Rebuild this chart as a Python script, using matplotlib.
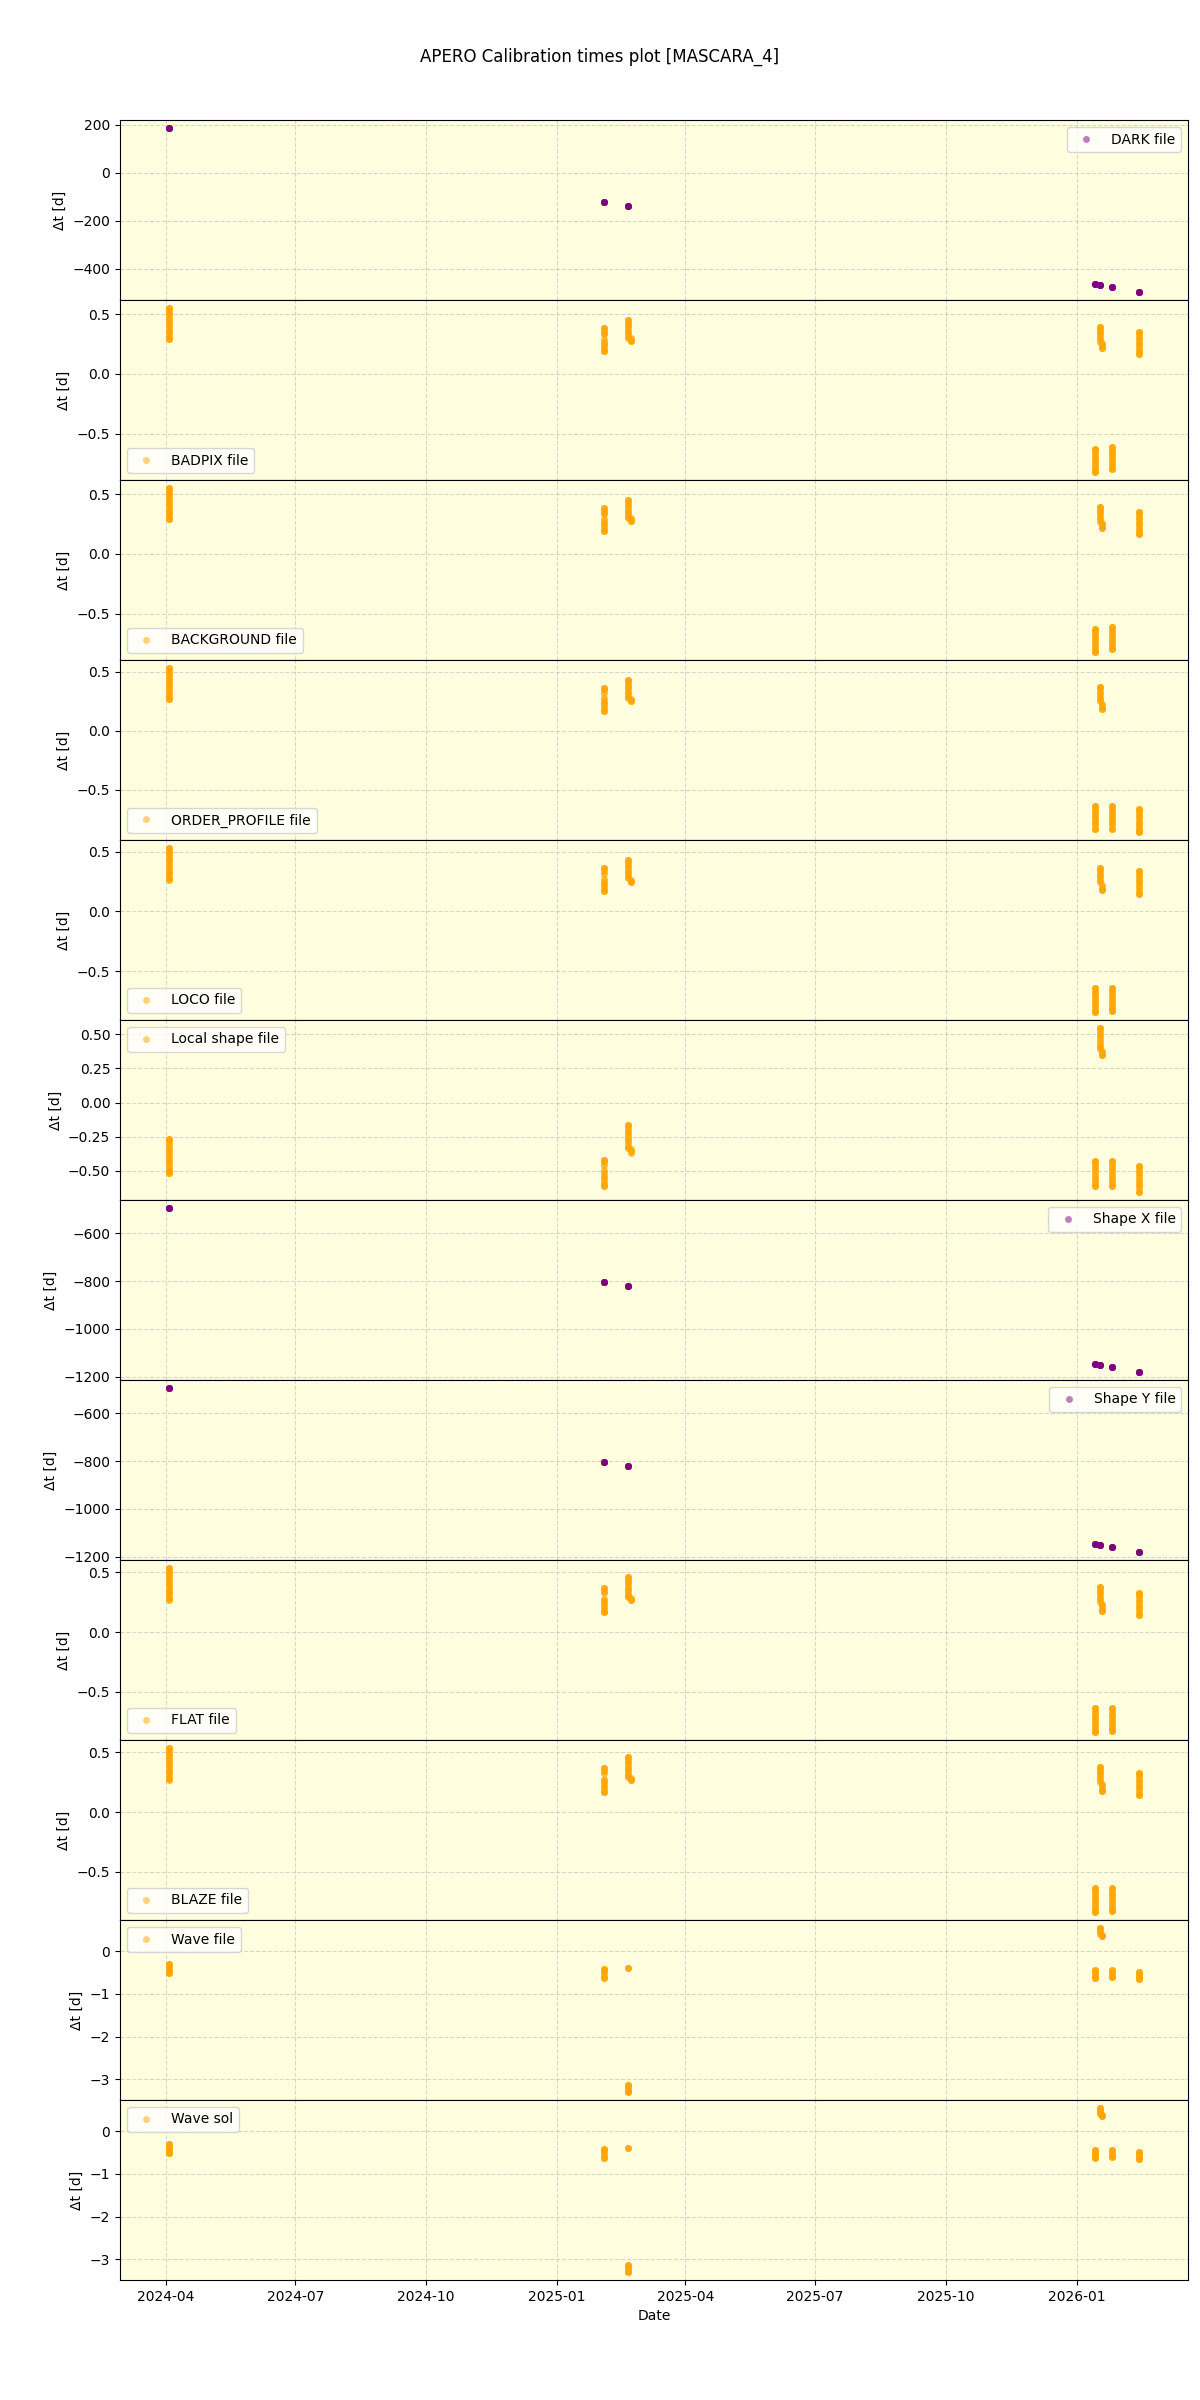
import matplotlib
matplotlib.use('Agg')
import matplotlib.pyplot as plt
import pandas as pd

TITLE = 'APERO Calibration times plot [MASCARA_4]'
X_LABEL = 'Date'
Y_LABEL = 'Δt [d]'

# observation nights (x positions of the clusters)
NIGHTS = ['2024-04-03', '2025-02-03', '2025-02-20', '2025-02-21 12:00',
          '2026-01-14', '2026-01-17', '2026-01-18 12:00', '2026-01-26', '2026-02-14']

PANEL_LABELS = ['DARK file', 'BADPIX file', 'BACKGROUND file', 'ORDER_PROFILE file',
                'LOCO file', 'Local shape file', 'Shape X file', 'Shape Y file',
                'FLAT file', 'BLAZE file', 'Wave file', 'Wave sol']
PANEL_COLORS = ['purple', 'orange', 'orange', 'orange', 'orange', 'orange',
                'purple', 'purple', 'orange', 'orange', 'orange', 'orange']
LEGEND_LOCS = ['upper right', 'lower left', 'lower left', 'lower left', 'lower left',
               'upper left', 'upper right', 'upper right', 'lower left', 'lower left',
               'upper left', 'upper left']

# Δt values (days), one list per night in NIGHTS
DARK_DT = [[186.3, 186.4, 186.5, 186.6], [-120.6, -120.5, -120.4, -120.3],
           [-137.6, -137.5, -137.4, -137.3], [],
           [-465.6, -465.5, -465.4, -465.3], [-468.6, -468.5, -468.4, -468.3], [],
           [-477.6, -477.5, -477.4, -477.3], [-496.6, -496.5, -496.4, -496.3]]

BADPIX_DT = [
    [0.55, 0.55, 0.53, 0.51, 0.49, 0.47, 0.45, 0.43, 0.41, 0.39, 0.37, 0.35, 0.33, 0.31, 0.29, 0.29],
    [0.38, 0.38, 0.36, 0.345, 0.335, 0.29, 0.27, 0.25, 0.23, 0.21, 0.19, 0.19],
    [0.45, 0.45, 0.43, 0.41, 0.39, 0.37, 0.35, 0.33, 0.31, 0.30],
    [0.30, 0.285, 0.275, 0.275],
    [-0.625, -0.625, -0.645, -0.665, -0.685, -0.705, -0.725, -0.745, -0.765, -0.785, -0.805, -0.82, -0.82],
    [0.39, 0.39, 0.37, 0.35, 0.33, 0.31, 0.29, 0.27],
    [0.26, 0.24, 0.22, 0.22],
    [-0.615, -0.615, -0.635, -0.655, -0.675, -0.695, -0.715, -0.735, -0.755, -0.775, -0.80, -0.80],
    [0.35, 0.35, 0.33, 0.31, 0.29, 0.27, 0.25, 0.23, 0.21, 0.19, 0.17, 0.17]]

BACKGROUND_DT = [
    [0.55, 0.55, 0.53, 0.51, 0.49, 0.47, 0.45, 0.43, 0.41, 0.39, 0.37, 0.35, 0.33, 0.31, 0.29, 0.29],
    [0.38, 0.38, 0.36, 0.345, 0.335, 0.29, 0.27, 0.25, 0.23, 0.21, 0.19, 0.19],
    [0.45, 0.45, 0.43, 0.41, 0.39, 0.37, 0.35, 0.33, 0.31, 0.30],
    [0.30, 0.285, 0.275, 0.275],
    [-0.625, -0.625, -0.645, -0.665, -0.685, -0.705, -0.725, -0.745, -0.765, -0.785, -0.805, -0.82, -0.82],
    [0.39, 0.39, 0.37, 0.35, 0.33, 0.31, 0.29, 0.27],
    [0.26, 0.24, 0.22, 0.22],
    [-0.615, -0.615, -0.635, -0.655, -0.675, -0.695, -0.715, -0.735, -0.755, -0.775, -0.80, -0.80],
    [0.35, 0.35, 0.33, 0.31, 0.29, 0.27, 0.25, 0.23, 0.21, 0.19, 0.17, 0.17]]

ORDER_PROFILE_DT = [
    [0.53, 0.53, 0.51, 0.49, 0.47, 0.45, 0.43, 0.41, 0.39, 0.37, 0.35, 0.33, 0.31, 0.29, 0.27, 0.27],
    [0.365, 0.365, 0.345, 0.32, 0.275, 0.255, 0.235, 0.215, 0.195, 0.17, 0.17],
    [0.43, 0.43, 0.41, 0.39, 0.37, 0.35, 0.33, 0.31, 0.29, 0.28],
    [0.27, 0.255, 0.255],
    [-0.64, -0.64, -0.66, -0.68, -0.70, -0.72, -0.74, -0.76, -0.78, -0.80, -0.83, -0.83],
    [0.37, 0.37, 0.35, 0.33, 0.31, 0.29, 0.27, 0.25],
    [0.23, 0.21, 0.185, 0.185],
    [-0.64, -0.64, -0.66, -0.68, -0.70, -0.72, -0.74, -0.76, -0.78, -0.80, -0.83, -0.83],
    [-0.66, -0.66, -0.68, -0.70, -0.72, -0.74, -0.76, -0.78, -0.80, -0.82, -0.84, -0.855, -0.855]]

LOCO_DT = [
    [0.53, 0.53, 0.51, 0.49, 0.47, 0.45, 0.43, 0.41, 0.39, 0.37, 0.35, 0.33, 0.31, 0.29, 0.27, 0.26],
    [0.36, 0.36, 0.34, 0.315, 0.27, 0.25, 0.23, 0.21, 0.19, 0.17, 0.17],
    [0.43, 0.43, 0.41, 0.39, 0.37, 0.35, 0.33, 0.31, 0.29, 0.28],
    [0.265, 0.25, 0.25],
    [-0.645, -0.645, -0.665, -0.685, -0.705, -0.725, -0.745, -0.765, -0.785, -0.805, -0.825, -0.842, -0.842],
    [0.365, 0.365, 0.345, 0.325, 0.305, 0.285, 0.265, 0.245],
    [0.225, 0.20, 0.18, 0.18],
    [-0.64, -0.64, -0.66, -0.68, -0.70, -0.72, -0.74, -0.76, -0.78, -0.80, -0.82, -0.835, -0.835],
    [0.335, 0.335, 0.315, 0.295, 0.275, 0.255, 0.235, 0.215, 0.195, 0.175, 0.15, 0.15]]

LOCAL_SHAPE_DT = [
    [-0.265, -0.265, -0.285, -0.305, -0.325, -0.345, -0.365, -0.385, -0.405, -0.425, -0.445, -0.465,
     -0.485, -0.505, -0.515, -0.515],
    [-0.418, -0.418, -0.438, -0.455, -0.495, -0.515, -0.535, -0.555, -0.575, -0.595, -0.612, -0.612],
    [-0.165, -0.165, -0.185, -0.205, -0.225, -0.245, -0.265, -0.285, -0.305, -0.325, -0.33],
    [-0.34, -0.355, -0.37],
    [-0.43, -0.43, -0.45, -0.47, -0.49, -0.51, -0.53, -0.55, -0.57, -0.59, -0.614, -0.614],
    [0.545, 0.545, 0.525, 0.505, 0.485, 0.465, 0.445, 0.425, 0.405, 0.395],
    [0.375, 0.36, 0.35, 0.35],
    [-0.43, -0.43, -0.45, -0.47, -0.49, -0.51, -0.53, -0.55, -0.57, -0.59, -0.61, -0.61],
    [-0.467, -0.467, -0.487, -0.507, -0.527, -0.547, -0.567, -0.587, -0.607, -0.627, -0.654, -0.654]]

SHAPE_X_DT = [[-496.6, -496.5, -496.4, -496.3], [-802.6, -802.5, -802.4, -802.3],
              [-819.6, -819.5, -819.4, -819.3], [],
              [-1147.6, -1147.5, -1147.4, -1147.3], [-1150.6, -1150.5, -1150.4, -1150.3], [],
              [-1159.6, -1159.5, -1159.4, -1159.3], [-1178.6, -1178.5, -1178.4, -1178.3]]

SHAPE_Y_DT = [[-496.6, -496.5, -496.4, -496.3], [-802.6, -802.5, -802.4, -802.3],
              [-819.6, -819.5, -819.4, -819.3], [],
              [-1147.6, -1147.5, -1147.4, -1147.3], [-1150.6, -1150.5, -1150.4, -1150.3], [],
              [-1159.6, -1159.5, -1159.4, -1159.3], [-1178.6, -1178.5, -1178.4, -1178.3]]

FLAT_DT = [
    [0.535, 0.535, 0.515, 0.495, 0.475, 0.455, 0.435, 0.415, 0.395, 0.375, 0.355, 0.335, 0.315, 0.295,
     0.275, 0.268],
    [0.367, 0.367, 0.347, 0.325, 0.28, 0.26, 0.24, 0.22, 0.20, 0.18, 0.167, 0.167],
    [0.46, 0.46, 0.44, 0.42, 0.40, 0.38, 0.36, 0.34, 0.32, 0.30, 0.29],
    [0.285, 0.27, 0.27],
    [-0.64, -0.64, -0.66, -0.68, -0.70, -0.72, -0.74, -0.76, -0.78, -0.80, -0.82, -0.836, -0.836],
    [0.375, 0.375, 0.355, 0.335, 0.315, 0.295, 0.275, 0.255],
    [0.235, 0.215, 0.195, 0.18, 0.18],
    [-0.635, -0.635, -0.655, -0.675, -0.695, -0.715, -0.735, -0.755, -0.775, -0.795, -0.815, -0.825, -0.825],
    [0.33, 0.33, 0.31, 0.29, 0.27, 0.25, 0.23, 0.21, 0.19, 0.17, 0.146, 0.146]]

BLAZE_DT = [
    [0.535, 0.535, 0.515, 0.495, 0.475, 0.455, 0.435, 0.415, 0.395, 0.375, 0.355, 0.335, 0.315, 0.295,
     0.275, 0.268],
    [0.367, 0.367, 0.347, 0.325, 0.28, 0.26, 0.24, 0.22, 0.20, 0.18, 0.167, 0.167],
    [0.46, 0.46, 0.44, 0.42, 0.40, 0.38, 0.36, 0.34, 0.32, 0.30, 0.29],
    [0.285, 0.27, 0.27],
    [-0.64, -0.64, -0.66, -0.68, -0.70, -0.72, -0.74, -0.76, -0.78, -0.80, -0.82, -0.836, -0.836],
    [0.375, 0.375, 0.355, 0.335, 0.315, 0.295, 0.275, 0.255],
    [0.235, 0.215, 0.195, 0.18, 0.18],
    [-0.635, -0.635, -0.655, -0.675, -0.695, -0.715, -0.735, -0.755, -0.775, -0.795, -0.815, -0.825, -0.825],
    [0.33, 0.33, 0.31, 0.29, 0.27, 0.25, 0.23, 0.21, 0.19, 0.17, 0.146, 0.146]]

WAVE_FILE_DT = [
    [-0.29, -0.29, -0.34, -0.39, -0.44, -0.49, -0.52, -0.52],
    [-0.42, -0.42, -0.47, -0.52, -0.57, -0.62, -0.62],
    [-0.39, -0.39, -3.12, -3.12, -3.17, -3.22, -3.27, -3.29, -3.29],
    [],
    [-0.44, -0.44, -0.49, -0.54, -0.59, -0.62, -0.62],
    [0.54, 0.54, 0.49, 0.44, 0.40],
    [0.37, 0.35, 0.35],
    [-0.44, -0.44, -0.49, -0.54, -0.59, -0.61, -0.61],
    [-0.48, -0.48, -0.53, -0.58, -0.63, -0.65, -0.65]]

WAVE_SOL_DT = [
    [-0.29, -0.29, -0.34, -0.39, -0.44, -0.49, -0.52, -0.52],
    [-0.42, -0.42, -0.47, -0.52, -0.57, -0.62, -0.62],
    [-0.39, -0.39, -3.12, -3.12, -3.17, -3.22, -3.27, -3.29, -3.29],
    [],
    [-0.44, -0.44, -0.49, -0.54, -0.59, -0.62, -0.62],
    [0.54, 0.54, 0.49, 0.44, 0.40],
    [0.37, 0.35, 0.35],
    [-0.44, -0.44, -0.49, -0.54, -0.59, -0.61, -0.61],
    [-0.48, -0.48, -0.53, -0.58, -0.63, -0.65, -0.65]]

PANEL_DATA = [DARK_DT, BADPIX_DT, BACKGROUND_DT, ORDER_PROFILE_DT, LOCO_DT,
              LOCAL_SHAPE_DT, SHAPE_X_DT, SHAPE_Y_DT, FLAT_DT, BLAZE_DT,
              WAVE_FILE_DT, WAVE_SOL_DT]

night_ts = [pd.Timestamp(n) for n in NIGHTS]

fig, axes = plt.subplots(len(PANEL_LABELS), 1, figsize=(12, 24), dpi=100, sharex=True)
fig.subplots_adjust(left=0.1, right=0.99, top=0.95, bottom=0.05, hspace=0)

for ax, label, color, loc, data in zip(axes, PANEL_LABELS, PANEL_COLORS, LEGEND_LOCS, PANEL_DATA):
    xs, ys = [], []
    for ts, vals in zip(night_ts, data):
        for v in vals:
            xs.append(ts)
            ys.append(v)
    ax.set_facecolor('lightyellow')
    ax.plot(xs, ys, marker='o', linestyle='None', color=color, alpha=0.75,
            markersize=5, markeredgewidth=0, label=label)
    ax.set_ylabel(Y_LABEL)
    ax.grid(True, linestyle='--', alpha=0.5)
    leg = ax.legend(loc=loc)
    for h in leg.legend_handles:
        h.set_alpha(0.5)

axes[-1].set_xlabel(X_LABEL)
fig.suptitle(TITLE)
fig.savefig('out.png', dpi=100)
